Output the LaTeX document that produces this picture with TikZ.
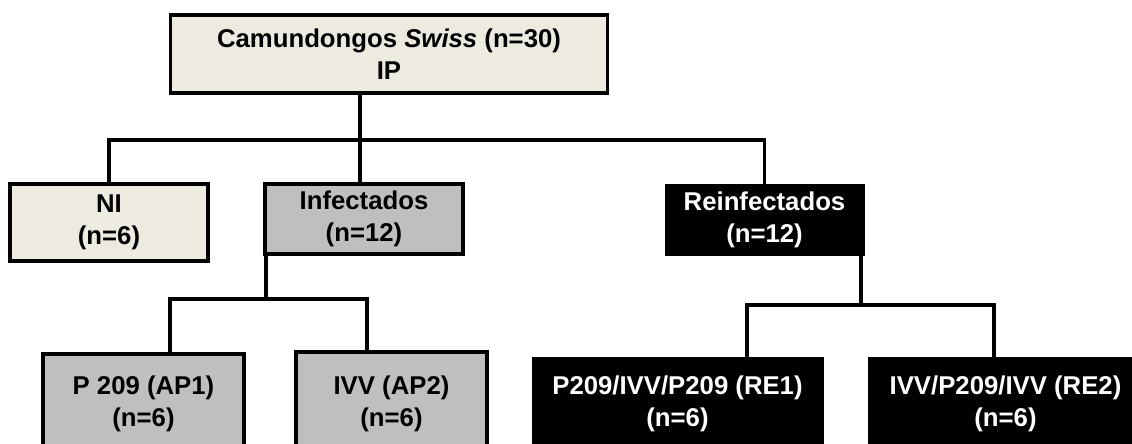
\documentclass[tikz,border=0pt]{standalone}
\usepackage{fontspec}
\setmainfont{Liberation Sans}

\definecolor{corbege}{HTML}{EDEAE0}
\definecolor{corcinza}{HTML}{BFBFBF}

\begin{document}
\begin{tikzpicture}[x=0.025cm, y=-0.025cm, line width=2.4pt,
    caixa/.style={draw, line width=2.2pt, align=center, inner sep=0pt,
        font=\bfseries\fontsize{18.3pt}{22.8pt}\selectfont},
    bege/.style={caixa, fill=corbege},
    cinza/.style={caixa, fill=corcinza},
    preta/.style={caixa, fill=black, text=white, line width=0.6pt}]
    \useasboundingbox (0,0) rectangle (1132,443);
    \clip (0,0) rectangle (1132,443);
    \node[bege, minimum width=10.9cm, minimum height=1.95cm] (swiss) at (389,54) {Camundongos \textit{Swiss} (n=30)\\IP};
    \node[bege, minimum width=4.95cm, minimum height=1.925cm] (ni) at (109,222.5) {NI\\(n=6)};
    \node[cinza, minimum width=4.95cm, minimum height=1.75cm] (inf) at (364,219) {Infectados\\(n=12)};
    \node[preta, minimum width=4.975cm, minimum height=1.775cm] (reinf) at (764.5,219.5) {Reinfectados\\(n=12)};
    \node[cinza, minimum width=5.025cm, minimum height=2.5cm] (ap1) at (143.5,404) {P 209 (AP1)\\(n=6)};
    \node[cinza, minimum width=4.775cm, minimum height=2.6cm] (ap2) at (391.5,404) {IVV (AP2)\\(n=6)};
    \node[preta, minimum width=7.275cm, minimum height=2.35cm] (re1) at (677.5,404) {P209/IVV/P209 (RE1)\\(n=6)};
    \node[preta, minimum width=6.875cm, minimum height=2.35cm] (re2) at (1005.5,404) {IVV/P209/IVV (RE2)\\(n=6)};
    \coordinate (g1) at (360,140);
    \coordinate (g2) at (266,299);
    \coordinate (g3) at (861,305);
    \coordinate (a1) at (170,299);
    \coordinate (a2) at (367,299);
    \coordinate (b1) at (747,305);
    \coordinate (b2) at (994,305);
    \draw (g1 |- swiss.south) -- (g1) -- (g1 |- inf.north);
    \draw (ni.north) -- (ni.north |- g1) -- (reinf.north |- g1) -- (reinf.north);
    \draw (g2 |- inf.south) -- (g2);
    \draw (a1 |- ap1.north) -- (a1) -- (a2) -- (a2 |- ap2.north);
    \draw (g3 |- reinf.south) -- (g3);
    \draw (b1 |- re1.north) -- (b1) -- (b2) -- (b2 |- re2.north);
\end{tikzpicture}
\end{document}
